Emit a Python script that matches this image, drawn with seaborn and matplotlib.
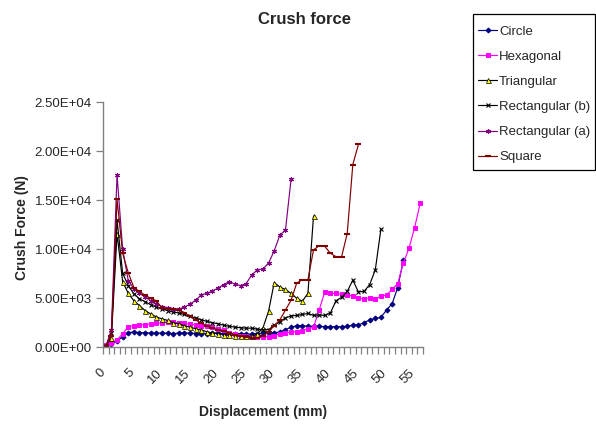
import matplotlib
matplotlib.use("Agg")
import matplotlib.pyplot as plt
import matplotlib.patches as mpatches
import matplotlib.transforms as mtransforms
import seaborn as sns
import numpy as np
from matplotlib.ticker import FixedLocator, FuncFormatter

circle = [100, 300, 600, 1100, 1500, 1550, 1500, 1500, 1450, 1450, 1450, 1450, 1400, 1450,
          1450, 1450, 1400, 1400, 1400, 1450, 1450, 1400, 1400, 1400, 1400, 1350, 1350, 1400,
          1450, 1500, 1500, 1550, 1800, 2050, 2200, 2200, 2150, 2150, 2150, 2100, 2100, 2100,
          2100, 2150, 2250, 2300, 2500, 2800, 2950, 3050, 3800, 4450, 6100, 8900]
hexagonal = [200, 400, 750, 1400, 2100, 2200, 2250, 2300, 2400, 2450, 2500, 2550, 2550, 2500,
             2450, 2350, 2300, 2200, 2150, 2050, 1900, 1750, 1500, 1350, 1200, 1150, 1100, 1050,
             1050, 1100, 1200, 1400, 1450, 1550, 1600, 1700, 1900, 2050, 3800, 5650, 5500, 5500,
             5400, 5300, 5250, 5000, 4950, 5050, 4950, 5200, 5350, 5900, 6500, 8600, 10100,
             12200, 14700]
triangular = [100, 1000, 11600, 6700, 5500, 4750, 4250, 3750, 3400, 3100, 2900, 2750, 2500,
              2400, 2200, 2050, 1900, 1750, 1600, 1450, 1400, 1300, 1250, 1200, 1150, 1150,
              1150, 1350, 2000, 3700, 6600, 6150, 5900, 5500, 5000, 4700, 5500, 13400]
rect_b = [100, 1500, 13000, 7550, 6300, 5450, 4950, 4650, 4350, 4100, 3900, 3750, 3600, 3500,
          3350, 3150, 3000, 2800, 2650, 2500, 2400, 2250, 2150, 2050, 2000, 1950, 1950, 1850,
          1800, 1800, 2250, 2600, 3000, 3200, 3250, 3350, 3450, 3250, 3300, 3250, 3500, 4750,
          5100, 5700, 6850, 5650, 5700, 6400, 7900, 12050]
rect_a = [100, 1800, 17600, 10000, 6800, 6000, 5500, 5150, 4750, 4450, 4150, 4050, 3950, 3900,
          4100, 4400, 4800, 5350, 5500, 5750, 6050, 6400, 6700, 6450, 6300, 6500, 7400, 7900,
          8000, 8600, 9850, 11450, 11950, 17150]
square = [100, 1200, 15100, 9600, 7600, 6100, 5700, 5300, 5000, 4750, 4000, 3900, 3900, 3800,
          3550, 3150, 2800, 2450, 2200, 1950, 1800, 1650, 1500, 1300, 1150, 1050, 1000, 1000,
          1150, 1600, 2200, 2800, 3800, 4800, 6550, 6900, 6900, 9950, 10350, 10300, 9600, 9250,
          9250, 11600, 18650, 20700]

series_names = ["Circle", "Hexagonal", "Triangular", "Rectangular (b)", "Rectangular (a)", "Square"]
x_tick_labels = [0, 5, 10, 15, 20, 25, 30, 35, 40, 45, 50, 55]
y_ticks = [0, 5000, 10000, 15000, 20000, 25000]

sns.set_style("white")
plt.rcParams["font.family"] = ["Liberation Sans", "DejaVu Sans"]

W, H = 596, 426
fig = plt.figure(figsize=(W / 100, H / 100), dpi=100)
ax = fig.add_axes([103 / W, 1 - 347.3 / H, 320 / W, 245 / H])

styles = [
    dict(color="#000080", marker="D", markersize=2.5, markerfacecolor="#000080", markeredgecolor="#000080"),
    dict(color="#FF00FF", marker="s", markersize=3.0, markerfacecolor="#FF00FF", markeredgecolor="#FF00FF"),
    dict(color="black", marker="^", markersize=3.6, markerfacecolor="#FFFF00", markeredgecolor="black", markeredgewidth=0.5),
    dict(color="black", marker="x", markersize=3.0, markeredgecolor="black", markeredgewidth=0.8),
    dict(color="#800080", marker=(6, 2, 0), markersize=3.6, markeredgecolor="#800080", markeredgewidth=0.8),
    dict(color="#800000", marker="_", markersize=4.0, markeredgecolor="#800000", markeredgewidth=1.5),
]
data = [circle, hexagonal, triangular, rect_b, rect_a, square]

for name, vals, st in zip(series_names, data, styles):
    xs = np.arange(len(vals))
    sns.lineplot(x=xs, y=vals, ax=ax, label=name, linewidth=0.85, **st)

ax.set_xlim(-0.5, 56.5)
ax.set_ylim(0, 25000)

for s in ["top", "right"]:
    ax.spines[s].set_visible(False)
for s in ["left", "bottom"]:
    ax.spines[s].set_color("#808080")
    ax.spines[s].set_linewidth(1.0)

ax.xaxis.set_major_locator(FixedLocator(x_tick_labels))
ax.xaxis.set_minor_locator(FixedLocator(np.arange(-0.5, 57, 1.0)))
ax.set_xticklabels([str(v) for v in x_tick_labels], rotation=45, ha="right", va="top",
                   rotation_mode="anchor", fontsize=9.5)
ax.tick_params(axis="x", which="major", length=0, pad=14)
ax.tick_params(axis="x", which="minor", length=5, width=0.9, color="#808080", direction="out", bottom=True)
shift = mtransforms.ScaledTranslation(-6 / 100, 0, fig.dpi_scale_trans)
for lab in ax.get_xticklabels():
    lab.set_transform(lab.get_transform() + shift)

ax.yaxis.set_major_locator(FixedLocator(y_ticks))
ax.yaxis.set_major_formatter(FuncFormatter(lambda v, p: f"{v:.2E}"))
ax.tick_params(axis="y", which="major", length=5, width=0.9, color="#808080", direction="out",
               left=True, labelsize=9.5, pad=3)

ax.set_xlabel("Displacement (mm)", fontsize=10, fontweight="bold", labelpad=14)
ax.set_ylabel("")
fig.text(22 / W, 1 - 228 / H, "Crush Force (N)", rotation=90, ha="center", va="center",
         fontsize=10, fontweight="bold")
fig.text(305 / W, 1 - 20 / H, "Crush force", ha="center", va="center",
         fontsize=12, fontweight="bold")

handles, labels = ax.get_legend_handles_labels()
if ax.get_legend() is not None:
    ax.get_legend().remove()
leg = fig.legend(handles, labels, loc="upper left", bbox_to_anchor=(472.7 / W, 1 - 20.5 / H),
                 frameon=False, fontsize=9.5, handlelength=1.45, handletextpad=0.15,
                 borderpad=0.4, labelspacing=0.97, borderaxespad=0)
fig.patches.append(mpatches.Rectangle((473 / W, 1 - 170 / H), 122 / W, 156 / H,
                                      transform=fig.transFigure, fill=False,
                                      edgecolor="black", linewidth=0.9))

fig.savefig("out.png", dpi=100)
